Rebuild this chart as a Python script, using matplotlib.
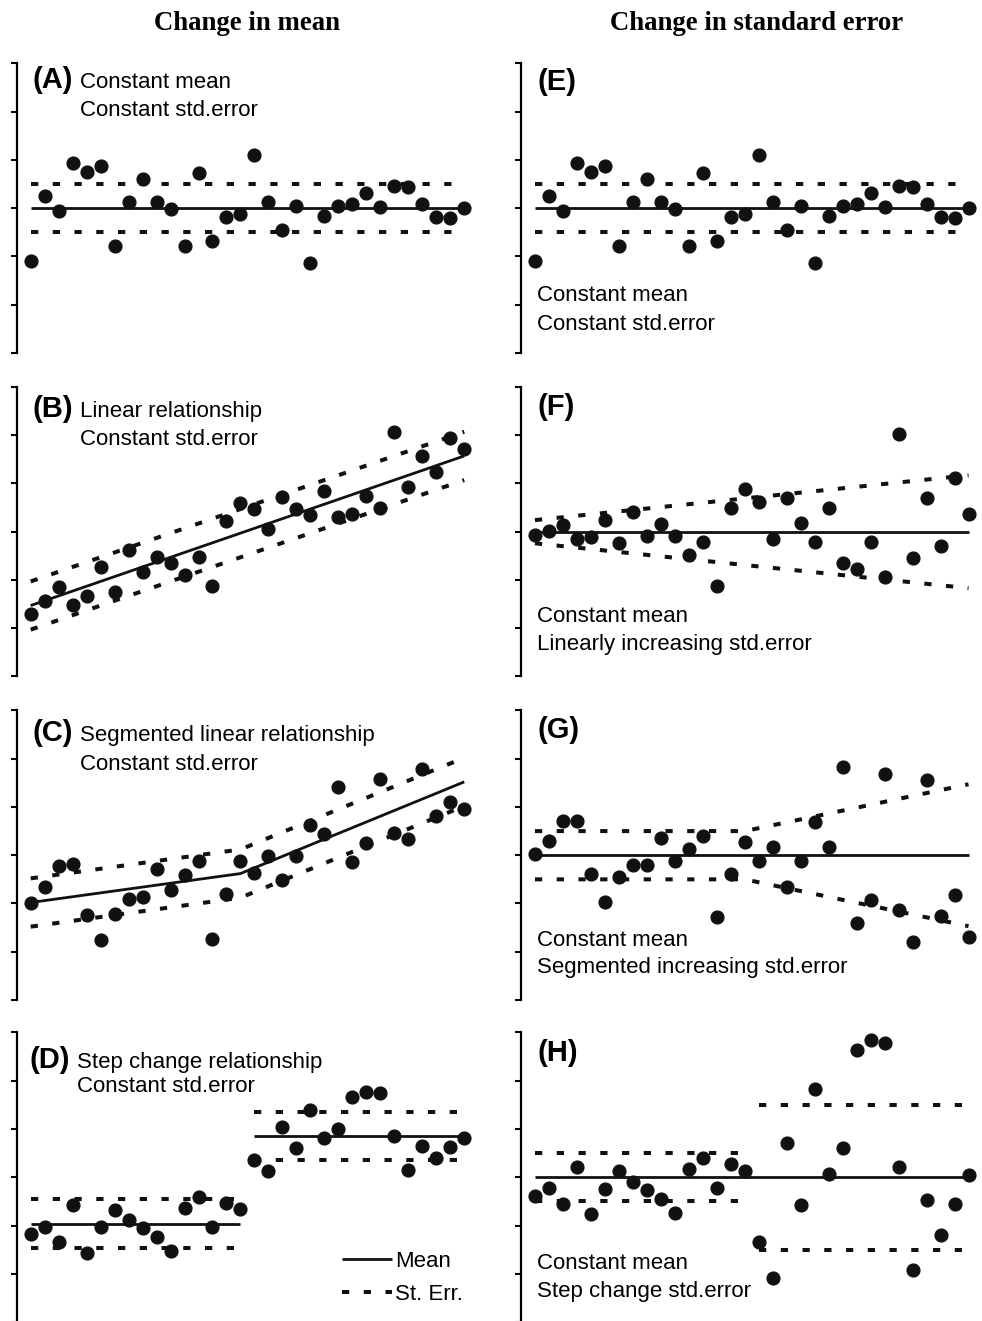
import numpy as np
import matplotlib
matplotlib.use('Agg')
import matplotlib.pyplot as plt
from matplotlib.lines import Line2D

x = np.arange(1, 33)

# (A) and (E): constant mean, constant std.error
y_const = [1.91, 3.26, 2.94, 3.94, 3.74, 3.88, 2.21, 3.13, 3.61, 3.12, 2.98, 2.22,
           3.72, 2.33, 2.82, 2.88, 4.10, 3.13, 2.55, 3.05, 1.86, 2.84, 3.05, 3.09,
           3.32, 3.02, 3.46, 3.44, 3.09, 2.82, 2.79, 3.01]
mean_const = 3.0
se_const = 0.5

# (B) linear relationship
y_lin = [1.29, 1.57, 1.86, 1.48, 1.67, 2.26, 1.76, 2.62, 2.16, 2.48, 2.36, 2.11,
         2.48, 1.87, 3.23, 3.60, 3.47, 3.05, 3.71, 3.47, 3.34, 3.85, 3.30, 3.36,
         3.75, 3.50, 5.06, 3.92, 4.57, 4.23, 4.94, 4.71]
lin_x = [1, 32]
lin_mean = [1.47, 4.57]

# (C) segmented linear relationship
y_seg = [2.01, 2.35, 2.77, 2.82, 1.77, 1.25, 1.79, 2.09, 2.13, 2.71, 2.28, 2.59,
         2.89, 1.27, 2.19, 2.89, 2.63, 2.98, 2.49, 2.99, 3.63, 3.44, 4.41, 2.86,
         3.26, 4.57, 3.45, 3.33, 4.78, 3.82, 4.10, 3.95]
seg_x = [1, 16, 32]
seg_mean = [2.02, 2.62, 4.52]

# (D) step change relationship
y_step = [1.82, 1.97, 1.66, 2.42, 1.44, 1.97, 2.33, 2.11, 1.94, 1.76, 1.47, 2.37,
          2.60, 1.98, 2.47, 2.35, 3.36, 3.12, 4.04, 3.60, 4.40, 3.82, 4.00, 4.67,
          4.76, 4.74, 3.86, 3.15, 3.64, 3.40, 3.62, 3.82]
step_mean = [2.04, 3.86]

# (F) linearly increasing std.error
y_linse = [2.94, 3.02, 3.14, 2.84, 2.88, 3.24, 2.76, 3.41, 2.91, 3.16, 2.91, 2.52,
           2.79, 1.87, 3.50, 3.89, 3.61, 2.84, 3.70, 3.18, 2.79, 3.50, 2.36, 2.23,
           2.79, 2.07, 5.03, 2.45, 3.70, 2.71, 4.12, 3.36]
linse_x = [1, 32]
linse_se = [0.24, 1.17]

# (G) segmented increasing std.error
y_segse = [3.02, 3.30, 3.70, 3.70, 2.61, 2.04, 2.54, 2.80, 2.80, 3.35, 2.89, 3.13,
           3.39, 1.73, 2.61, 3.28, 2.89, 3.16, 2.35, 2.87, 3.68, 3.18, 4.83, 1.59,
           2.08, 4.69, 1.87, 1.20, 4.55, 1.75, 2.18, 1.31]
segse_x = [1, 16, 32]
segse_se = [0.5, 0.5, 1.47]

# (H) step change std.error
y_stepse = [2.62, 2.78, 2.45, 3.22, 2.23, 2.75, 3.13, 2.90, 2.73, 2.55, 2.26, 3.17,
            3.40, 2.78, 3.28, 3.14, 1.65, 0.92, 3.71, 2.43, 4.83, 3.06, 3.61, 5.63,
            5.85, 5.78, 3.21, 1.07, 2.53, 1.80, 2.45, 3.04]
stepse_se = [0.5, 1.5]

W, H = 982, 1321
fig = plt.figure(figsize=(W / 100, H / 100), dpi=100)

SANS = 'Liberation Sans'
SERIF = 'Liberation Serif'
LINE_KW = dict(color='#111111', lw=2.0, solid_capstyle='butt')
DASH_KW = dict(color='#111111', lw=2.9, ls=(0, (1.8, 3.6)), dash_capstyle='butt')
DOT_KW = dict(ls='none', marker='o', ms=9.2, color='#111111', zorder=5)

bottoms = [0.7328, 0.4879, 0.2430, -0.0008]
height = 0.2192
lefts = [0.0170, 0.5305]
width = 0.47


def make_ax(col, row):
    ax = fig.add_axes([lefts[col], bottoms[row], width, height])
    ax.set_xlim(0, 33)
    ax.set_ylim(0, 6)
    for s in ['top', 'right', 'bottom']:
        ax.spines[s].set_visible(False)
    ax.spines['left'].set_linewidth(1.6)
    ax.set_yticks(range(7))
    ax.set_yticklabels([])
    ax.set_xticks([])
    ax.tick_params(axis='y', direction='out', length=4, width=1.5)
    ax.patch.set_alpha(0)
    return ax


def label(ax, letter, lines, ly, ty, tx=0.137, lx=0.035):
    ax.text(lx, ly, letter, transform=ax.transAxes, family=SANS,
            fontsize=21, fontweight='bold', va='baseline')
    for i, t in enumerate(lines):
        ax.text(tx, ty[i], t, transform=ax.transAxes, family=SANS,
                fontsize=16, va='baseline')


# ---- left column: change in mean ----
ax = make_ax(0, 0)
ax.plot(x, y_const, **DOT_KW)
ax.plot(x, [mean_const] * len(x), **LINE_KW)
ax.plot(x, [mean_const + se_const] * len(x), **DASH_KW)
ax.plot(x, [mean_const - se_const] * len(x), **DASH_KW)
label(ax, '(A)', ['Constant mean', 'Constant std.error'], 0.916, [0.916, 0.820])

ax = make_ax(0, 1)
ax.plot(x, y_lin, **DOT_KW)
ax.plot(lin_x, lin_mean, **LINE_KW)
ax.plot(lin_x, np.array(lin_mean) + se_const, **DASH_KW)
ax.plot(lin_x, np.array(lin_mean) - se_const, **DASH_KW)
label(ax, '(B)', ['Linear relationship', 'Constant std.error'], 0.897, [0.897, 0.799])

ax = make_ax(0, 2)
ax.plot(x, y_seg, **DOT_KW)
ax.plot(seg_x, seg_mean, **LINE_KW)
ax.plot(seg_x, np.array(seg_mean) + se_const, **DASH_KW)
ax.plot(seg_x, np.array(seg_mean) - se_const, **DASH_KW)
label(ax, '(C)', ['Segmented linear relationship', 'Constant std.error'], 0.893, [0.893, 0.796])

ax = make_ax(0, 3)
ax.plot(x, y_step, **DOT_KW)
for xs, m in zip([x[:16], x[16:]], step_mean):
    ax.plot(xs, [m] * len(xs), **LINE_KW)
    ax.plot(xs, [m + se_const] * len(xs), **DASH_KW)
    ax.plot(xs, [m - se_const] * len(xs), **DASH_KW)
label(ax, '(D)', ['Step change relationship', 'Constant std.error'], 0.879, [0.879, 0.793],
      tx=0.131, lx=0.027)
handles = [Line2D([], [], **LINE_KW), Line2D([], [], **DASH_KW)]
ax.legend(handles, ['Mean', 'St. Err.'], loc='lower left', bbox_to_anchor=(0.705, 0.058),
          frameon=False, prop={'family': SANS, 'size': 16}, handlelength=2.25,
          handletextpad=0.12, labelspacing=0.55, borderpad=0, borderaxespad=0)

# ---- right column: change in standard error ----
ax = make_ax(1, 0)
ax.plot(x, y_const, **DOT_KW)
ax.plot(x, [mean_const] * len(x), **LINE_KW)
ax.plot(x, [mean_const + se_const] * len(x), **DASH_KW)
ax.plot(x, [mean_const - se_const] * len(x), **DASH_KW)
label(ax, '(E)', ['Constant mean', 'Constant std.error'], 0.908, [0.178, 0.080], tx=0.035)

ax = make_ax(1, 1)
ax.plot(x, y_linse, **DOT_KW)
ax.plot(x, [mean_const] * len(x), **LINE_KW)
ax.plot(linse_x, mean_const + np.array(linse_se), **DASH_KW)
ax.plot(linse_x, mean_const - np.array(linse_se), **DASH_KW)
label(ax, '(F)', ['Constant mean', 'Linearly increasing std.error'], 0.902, [0.187, 0.091], tx=0.035)

ax = make_ax(1, 2)
ax.plot(x, y_segse, **DOT_KW)
ax.plot(x, [mean_const] * len(x), **LINE_KW)
ax.plot(segse_x, mean_const + np.array(segse_se), **DASH_KW)
ax.plot(segse_x, mean_const - np.array(segse_se), **DASH_KW)
label(ax, '(G)', ['Constant mean', 'Segmented increasing std.error'], 0.905, [0.187, 0.092], tx=0.035)

ax = make_ax(1, 3)
ax.plot(x, y_stepse, **DOT_KW)
ax.plot(x, [mean_const] * len(x), **LINE_KW)
for xs, s in zip([x[:16], x[16:]], stepse_se):
    ax.plot(xs, [mean_const + s] * len(xs), **DASH_KW)
    ax.plot(xs, [mean_const - s] * len(xs), **DASH_KW)
label(ax, '(H)', ['Constant mean', 'Step change std.error'], 0.902, [0.183, 0.087], tx=0.035)

fig.text(247.5 / W, 1 - 30 / H, 'Change in mean', family=SERIF, fontweight='bold',
         fontsize=19.3, ha='center', va='baseline')
fig.text(757 / W, 1 - 30 / H, 'Change in standard error', family=SERIF, fontweight='bold',
         fontsize=19.3, ha='center', va='baseline')

fig.savefig('out.png', dpi=100, facecolor='white')
